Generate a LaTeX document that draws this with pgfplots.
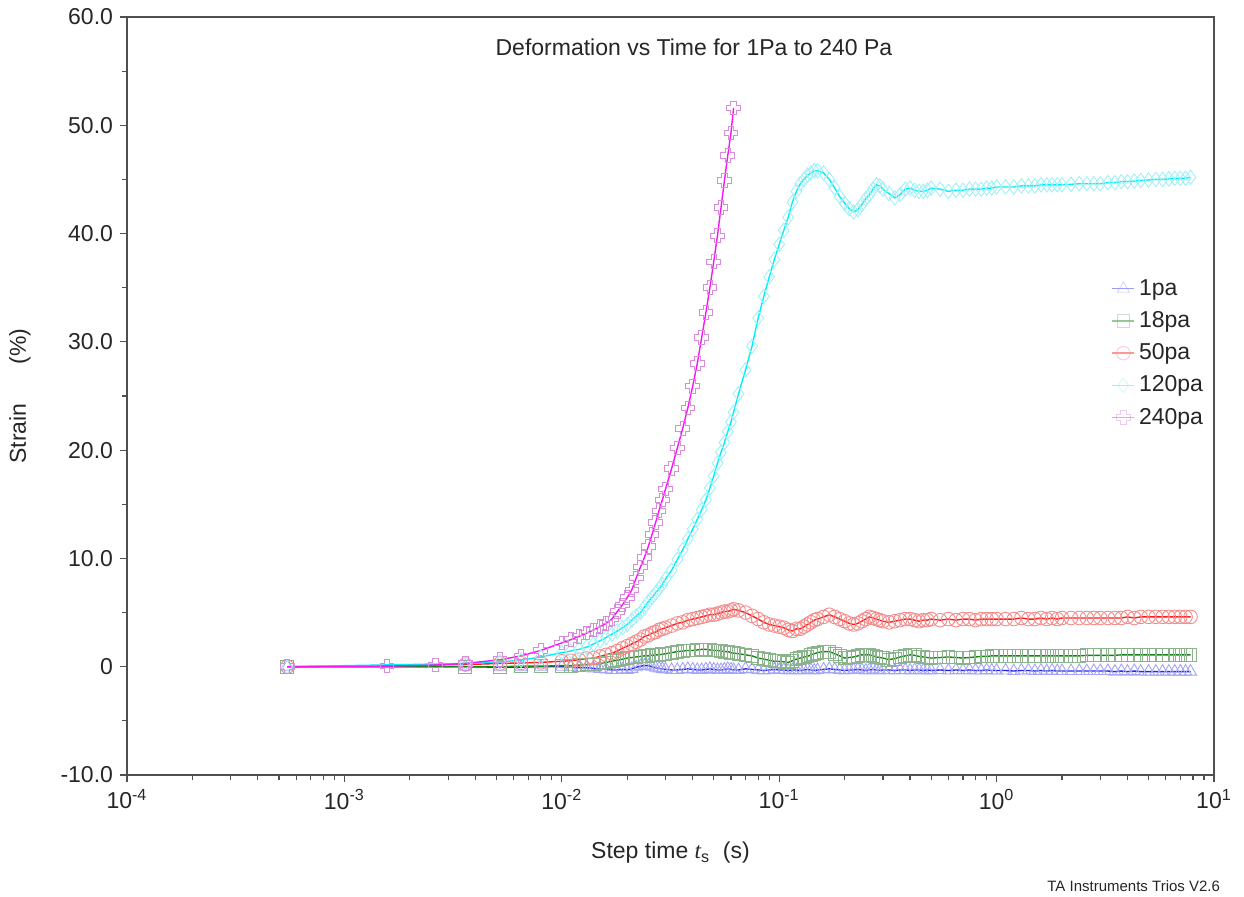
\documentclass[border=0pt]{standalone}
\usepackage{pgfplots}
\pgfplotsset{compat=1.18}
\usepackage{pgfplotstable}
\usepackage{fontspec}
\setmainfont{Liberation Sans}
\newfontfamily\serifit{Liberation Serif}

\definecolor{axisgray}{RGB}{80,80,80}
\definecolor{cA}{RGB}{35,35,235}   \definecolor{cAm}{RGB}{165,165,245}
\definecolor{cB}{RGB}{20,135,20}   \definecolor{cBm}{RGB}{140,180,140}
\definecolor{cC}{RGB}{255,25,25}   \definecolor{cCm}{RGB}{245,140,140}
\definecolor{cD}{RGB}{0,240,250}   \definecolor{cDm}{RGB}{160,240,245}
\definecolor{cE}{RGB}{250,20,245}  \definecolor{cEm}{RGB}{215,140,220}

% outlined Greek-cross marker
\pgfdeclareplotmark{gcross}{%
  \pgfpathmoveto{\pgfqpoint{-.4\pgfplotmarksize}{\pgfplotmarksize}}%
  \pgfpathlineto{\pgfqpoint{.4\pgfplotmarksize}{\pgfplotmarksize}}%
  \pgfpathlineto{\pgfqpoint{.4\pgfplotmarksize}{.4\pgfplotmarksize}}%
  \pgfpathlineto{\pgfqpoint{\pgfplotmarksize}{.4\pgfplotmarksize}}%
  \pgfpathlineto{\pgfqpoint{\pgfplotmarksize}{-.4\pgfplotmarksize}}%
  \pgfpathlineto{\pgfqpoint{.4\pgfplotmarksize}{-.4\pgfplotmarksize}}%
  \pgfpathlineto{\pgfqpoint{.4\pgfplotmarksize}{-\pgfplotmarksize}}%
  \pgfpathlineto{\pgfqpoint{-.4\pgfplotmarksize}{-\pgfplotmarksize}}%
  \pgfpathlineto{\pgfqpoint{-.4\pgfplotmarksize}{-.4\pgfplotmarksize}}%
  \pgfpathlineto{\pgfqpoint{-\pgfplotmarksize}{-.4\pgfplotmarksize}}%
  \pgfpathlineto{\pgfqpoint{-\pgfplotmarksize}{.4\pgfplotmarksize}}%
  \pgfpathlineto{\pgfqpoint{-.4\pgfplotmarksize}{.4\pgfplotmarksize}}%
  \pgfpathclose
  \pgfusepathqstroke}

% step time (s) and strain (%) for each stress level
\pgfplotstableread{
t        p1     p18   p50   p120   p240
0.000546  0.0   0.0   0.0   0.0    0.0
0.00157   nan   nan   nan   nan    0.05
0.00262   nan   nan   nan   nan    0.15
0.0036    0.0   0.0   0.2   0.3    0.3
0.0052   -0.05  0.0   0.3   0.45   0.65
0.0065   -0.05  0.05  0.35  0.6    1.0
0.008     0.0   0.05  0.4   0.9    1.5
0.010     0.0   0.1   0.5   1.3    2.2
0.011    -0.05  0.1   0.55  1.45   2.5
0.012    -0.1   0.15  0.65  1.6    2.8
0.013    -0.1   0.2   0.75  1.8    3.1
0.014    -0.15  0.2   0.8   2.1    3.4
0.015    -0.2   0.3   0.95  2.4    3.7
0.016    -0.25  0.4   1.1   2.7    4.0
0.017    -0.3   0.5   1.25  3.0    4.4
0.018    -0.3   0.6   1.45  3.3    5.1
0.019    -0.25  0.7   1.7   3.6    5.7
0.020    -0.3   0.8   1.9   3.9    6.4
0.021    -0.2   0.85  2.1   4.3    7.1
0.022    -0.05  0.9   2.3   4.7    8.2
0.023     0.05  0.95  2.5   5.0    9.2
0.024     0.1   1.0   2.8   5.5    10.1
0.025     0.1   1.0   2.9   6.0    11.1
0.026     0.0   1.05  3.1   6.4    12.2
0.027    -0.1   1.1   3.2   6.8    13.3
0.028    -0.15  1.1   3.4   7.2    14.4
0.029    -0.2   1.15  3.5   7.6    15.4
0.030    -0.25  1.2   3.6   8.1    16.4
0.032    -0.3   1.3   3.8   8.9    18.3
0.034    -0.3   1.4   4.0   9.9    20.2
0.036    -0.25  1.45  4.1   10.8   22.0
0.038    -0.2   1.5   4.3   11.8   23.9
0.040    -0.25  1.5   4.4   12.7   25.9
0.042    -0.3   1.55  4.5   13.6   28.0
0.044    -0.3   1.6   4.6   14.5   30.4
0.046    -0.25  1.6   4.7   15.4   32.7
0.048    -0.2   1.55  4.8   16.5   35.0
0.050    -0.25  1.5   4.8   17.6   37.4
0.052    -0.3   1.5   4.9   18.8   39.8
0.054    -0.3   1.45  5.0   19.8   42.4
0.056    -0.25  1.4   5.1   20.7   44.9
0.058    -0.2   1.4   5.1   21.7   47.2
0.060    -0.25  1.3   5.2   22.6   49.3
0.0617   -0.3   1.25  5.3   23.5   51.6
0.065    -0.3   1.2   5.2   25.2   nan
0.070    -0.2   1.1   5.0   27.4   nan
0.075    -0.25  1.0   4.7   29.6   nan
0.080    -0.3   0.8   4.4   32.2   nan
0.085    -0.35  0.7   4.1   34.2   nan
0.090    -0.3   0.6   3.9   36.0   nan
0.095    -0.25  0.5   3.8   37.6   nan
0.100    -0.3   0.5   3.7   39.0   nan
0.105    -0.3   0.45  3.6   40.3   nan
0.110    -0.35  0.4   3.4   41.5   nan
0.115    -0.3   0.55  3.3   42.9   nan
0.120    -0.3   0.7   3.5   43.9   nan
0.125    -0.35  0.8   3.5   44.6   nan
0.130    -0.3   0.9   3.7   45.0   nan
0.135    -0.25  0.95  3.9   45.4   nan
0.140    -0.3   1.1   4.1   45.6   nan
0.145    -0.35  1.2   4.3   45.8   nan
0.150    -0.3   1.3   4.4   45.8   nan
0.16     -0.25  1.4   4.6   45.6   nan
0.17     -0.2   1.4   4.8   45.0   nan
0.18     -0.25  1.2   4.6   44.2   nan
0.19     -0.3   1.0   4.4   43.4   nan
0.20     -0.35  0.8   4.2   42.8   nan
0.21     -0.3   0.85  4.0   42.3   nan
0.22     -0.3   0.9   3.9   42.0   nan
0.23     -0.25  1.0   4.0   42.2   nan
0.24     -0.3   1.1   4.2   42.7   nan
0.25     -0.35  1.1   4.4   43.2   nan
0.26     -0.3   1.1   4.6   43.6   nan
0.27     -0.25  1.0   4.5   44.1   nan
0.28     -0.3   0.9   4.4   44.5   nan
0.29     -0.35  0.85  4.3   44.4   nan
0.30     -0.3   0.8   4.2   44.1   nan
0.32     -0.3   0.65  4.1   43.7   nan
0.34     -0.35  0.75  4.2   43.3   nan
0.36     -0.3   0.9   4.3   43.6   nan
0.38     -0.3   1.0   4.4   44.1   nan
0.40     -0.35  1.1   4.4   44.2   nan
0.42     -0.3   1.05  4.3   44.0   nan
0.44     -0.3   0.95  4.2   43.9   nan
0.46     -0.35  0.9   4.3   43.9   nan
0.48     -0.3   0.85  4.3   44.0   nan
0.50     -0.35  0.8   4.4   44.2   nan
0.55     -0.3   0.85  4.3   44.1   nan
0.60     -0.35  0.9   4.4   43.9   nan
0.65     -0.3   0.85  4.3   44.0   nan
0.70     -0.35  0.8   4.4   44.0   nan
0.75     -0.3   0.85  4.4   44.1   nan
0.80     -0.35  0.9   4.3   44.1   nan
0.85     -0.35  0.95  4.4   44.1   nan
0.90     -0.3   0.95  4.4   44.2   nan
0.95     -0.35  1.0   4.4   44.2   nan
1.0      -0.35  1.0   4.4   44.3   nan
1.1      -0.35  1.0   4.4   44.3   nan
1.2      -0.4   1.0   4.4   44.3   nan
1.3      -0.35  1.0   4.5   44.4   nan
1.4      -0.35  1.0   4.4   44.4   nan
1.5      -0.4   1.0   4.4   44.4   nan
1.6      -0.35  1.0   4.5   44.5   nan
1.7      -0.4   1.0   4.4   44.5   nan
1.8      -0.35  1.0   4.5   44.5   nan
1.9      -0.4   1.0   4.4   44.5   nan
2.0      -0.4   1.0   4.5   44.5   nan
2.2      -0.4   1.0   4.5   44.55  nan
2.4      -0.4   1.0   4.5   44.6   nan
2.6      -0.4   1.05  4.5   44.6   nan
2.8      -0.4   1.05  4.5   44.6   nan
3.0      -0.4   1.05  4.5   44.6   nan
3.25     -0.4   1.05  4.5   44.7   nan
3.5      -0.45  1.05  4.5   44.7   nan
3.75     -0.4   1.1   4.5   44.8   nan
4.0      -0.45  1.1   4.6   44.8   nan
4.3      -0.4   1.1   4.5   44.85  nan
4.6      -0.45  1.1   4.6   44.9   nan
5.0      -0.45  1.1   4.6   44.95  nan
5.4      -0.45  1.1   4.6   45.0   nan
5.8      -0.45  1.1   4.6   45.0   nan
6.2      -0.45  1.1   4.6   45.05  nan
6.6      -0.45  1.1   4.6   45.1   nan
7.0      -0.45  1.1   4.6   45.1   nan
7.4      -0.45  1.1   4.6   45.1   nan
7.8      -0.45  1.1   4.6   45.2   nan
}\strain

\begin{document}
\begin{tikzpicture}
\begin{axis}[
  scale only axis,
  width=543.5pt, height=379pt,
  xmode=log,
  xmin=1e-4, xmax=10, ymin=-10, ymax=60,
  xtick={1e-4,1e-3,1e-2,1e-1,1,10},
  xticklabels={10\textsuperscript{-4},10\textsuperscript{-3},10\textsuperscript{-2},10\textsuperscript{-1},10\textsuperscript{0},10\textsuperscript{1}},
  minor xtick={2e-4,3e-4,4e-4,5e-4,6e-4,7e-4,8e-4,9e-4,
               2e-3,3e-3,4e-3,5e-3,6e-3,7e-3,8e-3,9e-3,
               2e-2,3e-2,4e-2,5e-2,6e-2,7e-2,8e-2,9e-2,
               0.2,0.3,0.4,0.5,0.6,0.7,0.8,0.9,
               2,3,4,5,6,7,8,9},
  ytick={-10,0,...,60},
  yticklabels={-10.0,0,10.0,20.0,30.0,40.0,50.0,60.0},
  minor ytick={-5,5,...,55},
  tick align=outside,
  xtick pos=lower, ytick pos=left,
  major tick length=3.5pt, minor tick length=2.5pt,
  axis line style={draw=axisgray, line width=0.8pt},
  every tick/.style={draw=axisgray, line width=0.6pt},
  tick label style={font=\fontsize{11.5}{13}\selectfont, text=black!85},
  xlabel={Step time {\serifit\itshape t}\textsubscript{s}\ \ (s)},
  ylabel={Strain\hspace{1.7em}(\%)},
  label style={font=\fontsize{11.5}{13}\selectfont, text=black!85},
  xlabel style={at={(axis description cs:0.5,-0.1029)}, anchor=center},
  ylabel style={at={(axis description cs:-0.0984,0.5)}, anchor=center},
  legend style={at={(0.9,0.665)}, anchor=north west, draw=none, fill=none,
    font=\fontsize{11.5}{13}\selectfont, text=black!85, row sep=2.6pt},
  legend cell align=left,
  legend image code/.code={\draw[mark repeat=2,mark phase=2,draw opacity=0.45]
    plot coordinates {(0pt,0pt) (5.5pt,0pt) (11pt,0pt)};},
  clip=false,
]
\addplot[cA, line width=0.7pt, mark=triangle, mark size=3.5pt,
  mark options={draw=cAm, fill=none, line width=0.45pt, solid}]
  table[x=t, y=p1] {\strain};
\addplot[cB, line width=0.7pt, mark=square, mark size=3.2pt,
  mark options={draw=cBm, fill=none, line width=0.45pt, solid}]
  table[x=t, y=p18] {\strain};
\addplot[cC, line width=0.7pt, mark=o, mark size=3.4pt,
  mark options={draw=cCm, fill=none, line width=0.45pt, solid}]
  table[x=t, y=p50] {\strain};
\addplot[cD, line width=0.7pt, mark=diamond, mark size=3.6pt,
  mark options={draw=cDm, fill=none, line width=0.45pt, solid}]
  table[x=t, y=p120] {\strain};
\addplot[cE, line width=0.7pt, mark=gcross, mark size=3.4pt,
  mark options={draw=cEm, fill=none, line width=0.5pt, solid}]
  table[x=t, y=p240] {\strain};
\legend{1pa,18pa,50pa,120pa,240pa}

\node[font=\fontsize{11.5}{13}\selectfont, text=black!85, anchor=center]
  at (rel axis cs:0.5216,0.9604) {Deformation vs Time for 1Pa to 240 Pa};
\node[font=\fontsize{7.5}{9}\selectfont, text=black!85, anchor=east]
  at (rel axis cs:1.012,-0.1464) {TA Instruments Trios V2.6};

\coordinate (bbsw) at (rel axis cs:-0.11684,-0.15963);
\coordinate (bbne) at (rel axis cs:1.0276,1.02243);
\end{axis}
\pgfresetboundingbox
\path (bbsw) rectangle (bbne);
\end{tikzpicture}
\end{document}
